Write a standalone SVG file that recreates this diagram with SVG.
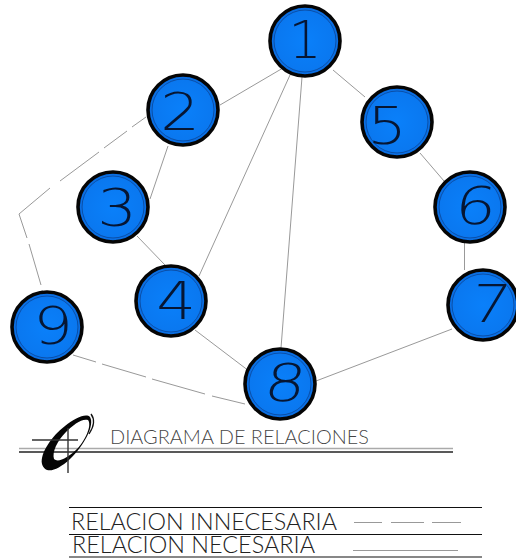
<svg xmlns="http://www.w3.org/2000/svg" width="516" height="558" viewBox="0 0 516 558">
<style>
.c{stroke:#999;stroke-width:1;fill:none}
.n circle.o{fill:url(#g);stroke:#050505;stroke-width:3.6}
.n circle.i{fill:none;stroke:#0a4fa8;stroke-width:1}
.n text{font-family:"DejaVu Sans","Liberation Sans",sans-serif;font-weight:200;font-size:52px;fill:#061633;text-anchor:middle}
.t{font-family:"Lato","Liberation Sans",sans-serif;font-weight:300;fill:#222}
.k{stroke:#111;stroke-width:1.2;fill:none}
</style>
<defs>
<radialGradient id="g"><stop offset="0" stop-color="#0a80fa"/><stop offset="0.85" stop-color="#0a78f0"/><stop offset="1" stop-color="#0a66d8"/></radialGradient>
</defs>
<rect width="516" height="558" fill="#fff"/>
<g id="connectors">
<path class="c" d="M283 68L220 105M168 146L150 199M137 236L165 265M290 75L199 276M302 77L281 348M333 70L365 97M420 153L444 181M464.500 243L464.500 270M452 329L316 381M195 330L249 371"/>
<path class="c" d="M146 117L132 127M127 131L104 148M99 152L60 181M50 188L19 214L27 238M29 244L41 285M42 290L45 303M73 355L96 362M102 364L146 377M152 379L205 394M212 396L245 404"/>
</g>
<g id="node1" class="n"><circle class="o" cx="305" cy="41" r="35"/><circle class="i" cx="305" cy="41" r="31"/><text transform="translate(305,58)">1</text></g>
<g id="node2" class="n"><circle class="o" cx="183" cy="110" r="35"/><circle class="i" cx="183" cy="110" r="31"/><text transform="translate(180,130) scale(1.2,1)">2</text></g>
<g id="node3" class="n"><circle class="o" cx="113" cy="207" r="35"/><circle class="i" cx="113" cy="207" r="31"/><text transform="translate(117,226) scale(1.2,1)">3</text></g>
<g id="node4" class="n"><circle class="o" cx="171" cy="301" r="35"/><circle class="i" cx="171" cy="301" r="31"/><text transform="translate(176,319) scale(1.2,1)">4</text></g>
<g id="node5" class="n"><circle class="o" cx="397" cy="122" r="35"/><circle class="i" cx="397" cy="122" r="31"/><text transform="translate(387,144) scale(1.2,1)">5</text></g>
<g id="node6" class="n"><circle class="o" cx="470" cy="207" r="35"/><circle class="i" cx="470" cy="207" r="31"/><text transform="translate(474,224) skewX(-6) scale(1.25,1)">6</text></g>
<g id="node7" class="n"><circle class="o" cx="483" cy="305" r="35"/><circle class="i" cx="483" cy="305" r="31"/><text transform="translate(488,322) skewX(-8) scale(1.2,1)">7</text></g>
<g id="node8" class="n"><circle class="o" cx="280" cy="384" r="35"/><circle class="i" cx="280" cy="384" r="31"/><text transform="translate(283,401) skewX(-8) scale(1.25,1)">8</text></g>
<g id="node9" class="n"><circle class="o" cx="47" cy="327" r="35"/><circle class="i" cx="47" cy="327" r="31"/><text transform="translate(53,344) scale(1.2,1)">9</text></g>
<g id="title">
<path d="M19 448.500H453" stroke="#aaa" stroke-width="1.600"/>
<path d="M19 452H453" stroke="#222" stroke-width="1.400"/>
<path fill-rule="evenodd" fill="#050505" d="M90 417C95 425 84 446 70 459C56 472 45 474 42 464C40 453 52 436 65 426C75 418 86 413 90 417ZM88 420C82 418 73 425 66 432C57 441 52 452 54 459C58 463 68 458 78 448C86 439 92 425 88 420Z"/>
<path d="M91 414Q97 422 89 434" fill="none" stroke="#111" stroke-width="1.300"/>
<path d="M32 440H78M68 428V473" stroke="#333" stroke-width="1.400" fill="none"/>
<text class="t" x="110" y="444" font-size="20" fill-opacity="0.85" textLength="259" lengthAdjust="spacingAndGlyphs">DIAGRAMA DE RELACIONES</text>
</g>
<g id="legend">
<path class="k" d="M69 507.500H482M69 534.500H482M69 557H482"/>
<text class="t" x="71" y="530" font-size="24" textLength="266" lengthAdjust="spacingAndGlyphs">RELACION INNECESARIA</text>
<text class="t" x="72" y="553" font-size="24" textLength="243" lengthAdjust="spacingAndGlyphs">RELACION NECESARIA</text>
<path d="M354 522.500H382M391 522.500H424M432 522.500H461M353 550.500H458" stroke="#999" stroke-width="1.100"/>
</g>
</svg>
